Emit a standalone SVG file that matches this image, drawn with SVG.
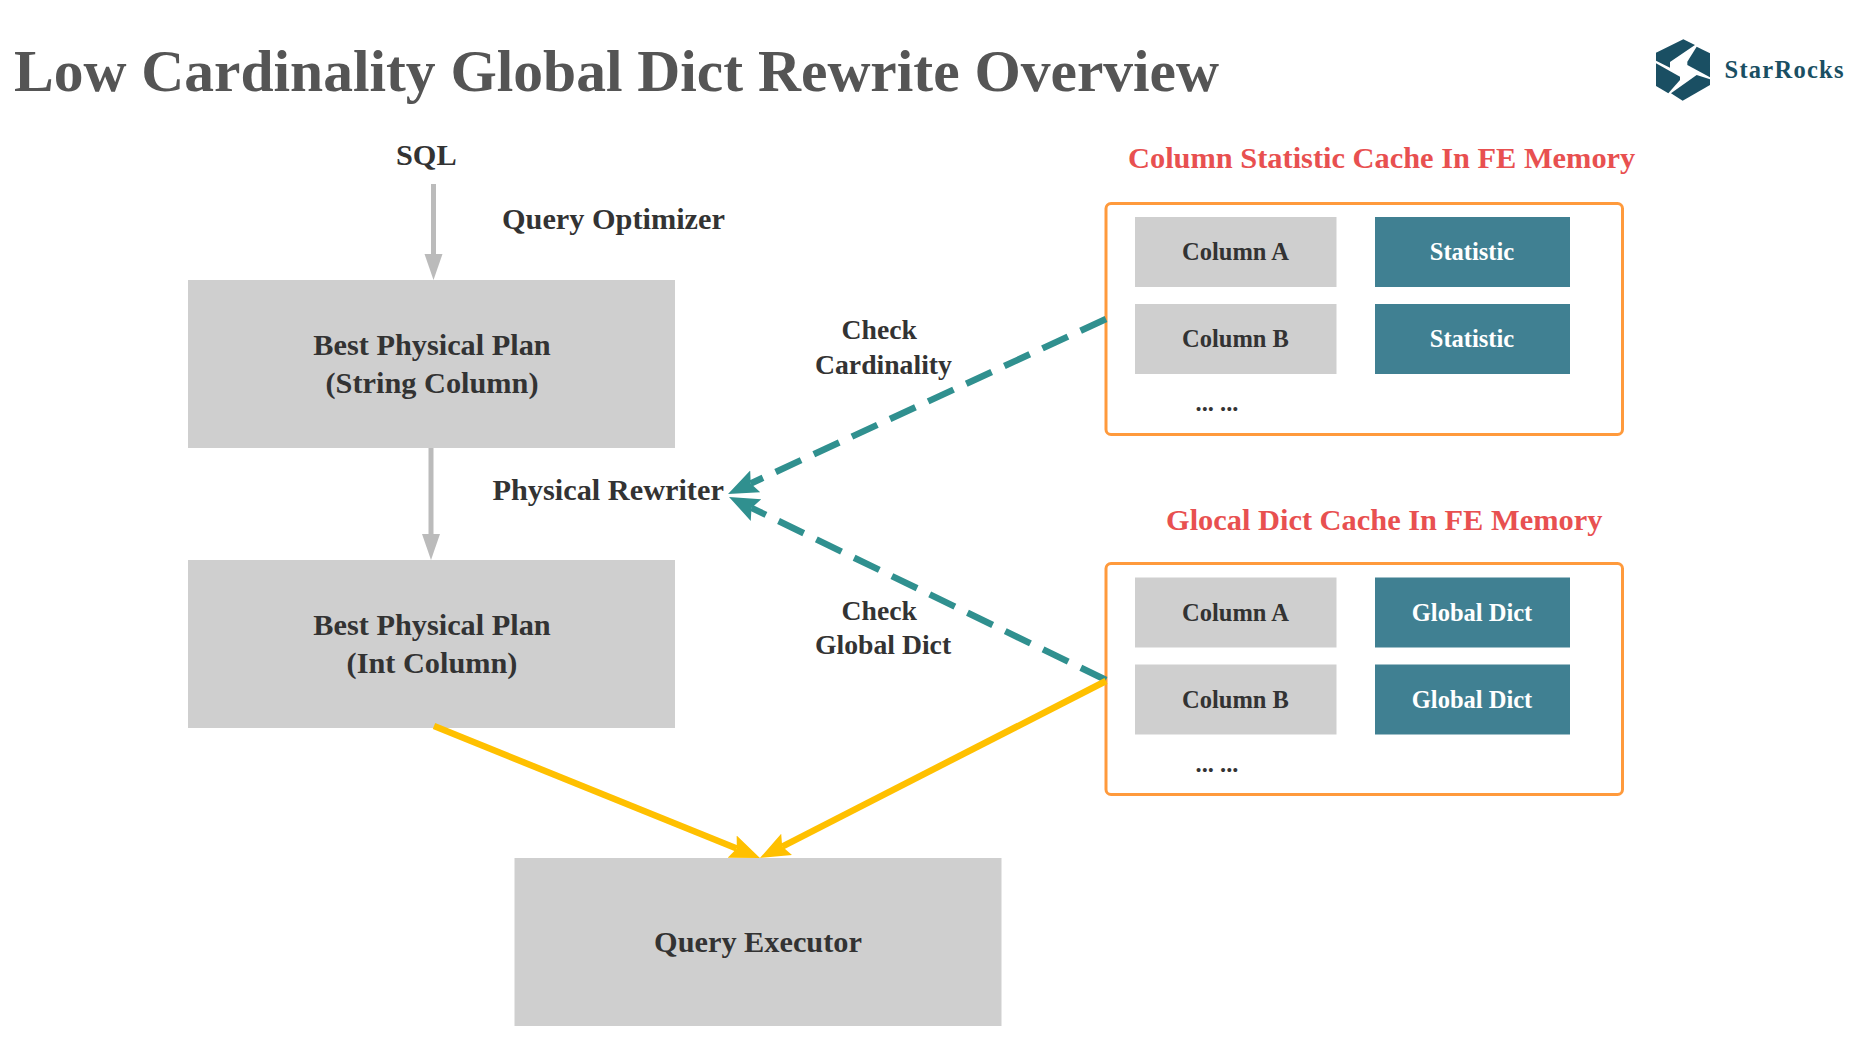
<svg xmlns="http://www.w3.org/2000/svg" width="1868" height="1054" viewBox="0 0 1868 1054">
<style>
text{font-family:"Liberation Serif","Times New Roman",serif;font-weight:700}
.t{font-size:30.300px;fill:#333;text-anchor:middle}
.l{font-size:30.300px;fill:#333}
.k{font-size:27.700px;fill:#333}
.c{font-size:24.500px;fill:#333;text-anchor:middle}
.w{font-size:24.500px;fill:#fff;text-anchor:middle}
.r{font-size:30.400px;fill:#e85050}
.box{fill:#cfcfcf}
.cell{fill:#cfcfcf}
.val{fill:#408092}
.cache{fill:#fff;stroke:#ff9a3c;stroke-width:3}
.gray{stroke:#bbb;stroke-width:5;fill:none}
.teal{stroke:#30908f;stroke-width:6.500;stroke-dasharray:28 14;fill:none}
.gold{stroke:#ffc000;stroke-width:6.500;fill:none}
</style>
<defs>
<marker id="hg" markerUnits="userSpaceOnUse" markerWidth="28" markerHeight="20" refX="1" refY="10" orient="auto"><path d="M0 1L26 10L0 19Z" fill="#bbb"/></marker>
<marker id="ht" markerUnits="userSpaceOnUse" markerWidth="32" markerHeight="26" refX="5" refY="13" orient="auto"><path d="M0 1L30 13L0 25L5 13Z" fill="#30908f"/></marker>
<marker id="hy" markerUnits="userSpaceOnUse" markerWidth="32" markerHeight="26" refX="5" refY="13" orient="auto"><path d="M0 1L30 13L0 25L5 13Z" fill="#ffc000"/></marker>
</defs>
<rect width="1868" height="1054" fill="#fff"/>
<text id="title" x="14" y="91" font-size="60" fill="#555" textLength="1205" lengthAdjust="spacingAndGlyphs">Low Cardinality Global Dict Rewrite Overview</text>
<g id="logo">
<g transform="translate(1650 32) scale(.3333)" fill="#1a4f63">
<path d="M100 22L135 39L60 90L60 107L18 86V62Z"/>
<path d="M140 44L180 64V136L112 99V89Z"/>
<path d="M18 94L90 134V144L55 184L18 162Z"/>
<path d="M63 184L140 129L180 142V159L98 206Z"/>
</g>
<text x="1724.500" y="78" font-size="24.500" fill="#1a4f63" textLength="119">StarRocks</text>
</g>
<g id="sql"><text class="l" x="396" y="165">SQL</text></g>
<g id="query-optimizer"><text class="l" x="502" y="229">Query Optimizer</text></g>
<g id="physical-rewriter"><text class="l" x="492.500" y="500">Physical Rewriter</text></g>
<g id="check-cardinality"><text class="k" x="846" y="339" dx="-4.500">Check</text><text class="k" x="815" y="373.500">Cardinality</text></g>
<g id="check-global-dict"><text class="k" x="846" y="619.500" dx="-4.500">Check</text><text class="k" x="815" y="654">Global Dict</text></g>
<g id="plan-string"><rect class="box" x="188" y="280" width="487" height="168"/><text class="t" x="432" y="355">Best Physical Plan</text><text class="t" x="432" y="393">(String Column)</text></g>
<g id="plan-int"><rect class="box" x="188" y="560" width="487" height="168"/><text class="t" x="432" y="635">Best Physical Plan</text><text class="t" x="432" y="672.500">(Int Column)</text></g>
<g id="query-executor"><rect class="box" x="514.500" y="858" width="487" height="168"/><text class="t" x="758" y="952">Query Executor</text></g>
<g id="statistic-cache">
<text class="r" x="1128" y="168">Column Statistic Cache In FE Memory</text>
<rect class="cache" x="1106" y="203.500" width="516.500" height="231" rx="5"/>
<rect class="cell" x="1135" y="217" width="201.500" height="70"/><text class="c" x="1235.500" y="260">Column A</text>
<rect class="val" x="1375" y="217" width="195" height="70"/><text class="w" x="1472" y="260">Statistic</text>
<rect class="cell" x="1135" y="304" width="201.500" height="70"/><text class="c" x="1235.500" y="347">Column B</text>
<rect class="val" x="1375" y="304" width="195" height="70"/><text class="w" x="1472" y="347">Statistic</text>
<text class="c" x="1217" y="411">... ...</text>
</g>
<g id="dict-cache">
<text class="r" x="1166" y="530">Glocal Dict Cache In FE Memory</text>
<rect class="cache" x="1106" y="563.500" width="516.500" height="231" rx="5"/>
<rect class="cell" x="1135" y="577.500" width="201.500" height="70"/><text class="c" x="1235.500" y="620.500">Column A</text>
<rect class="val" x="1375" y="577.500" width="195" height="70"/><text class="w" x="1472" y="620.500">Global Dict</text>
<rect class="cell" x="1135" y="664.500" width="201.500" height="70"/><text class="c" x="1235.500" y="707.500">Column B</text>
<rect class="val" x="1375" y="664.500" width="195" height="70"/><text class="w" x="1472" y="707.500">Global Dict</text>
<text class="c" x="1217" y="771.500">... ...</text>
</g>
<g id="connectors">
<path class="gray" d="M433.500 184V255" marker-end="url(#hg)"/>
<path class="gray" d="M431 448V535" marker-end="url(#hg)"/>
<path class="teal" d="M1106 319L750.700 483.500" marker-end="url(#ht)"/>
<path class="teal" d="M1106 680L751.500 507.900" marker-end="url(#ht)"/>
<path class="gold" d="M434 726L736.800 848.600" marker-end="url(#hy)"/>
<path class="gold" d="M1106 681L782.200 846.600" marker-end="url(#hy)"/>
</g>
</svg>
